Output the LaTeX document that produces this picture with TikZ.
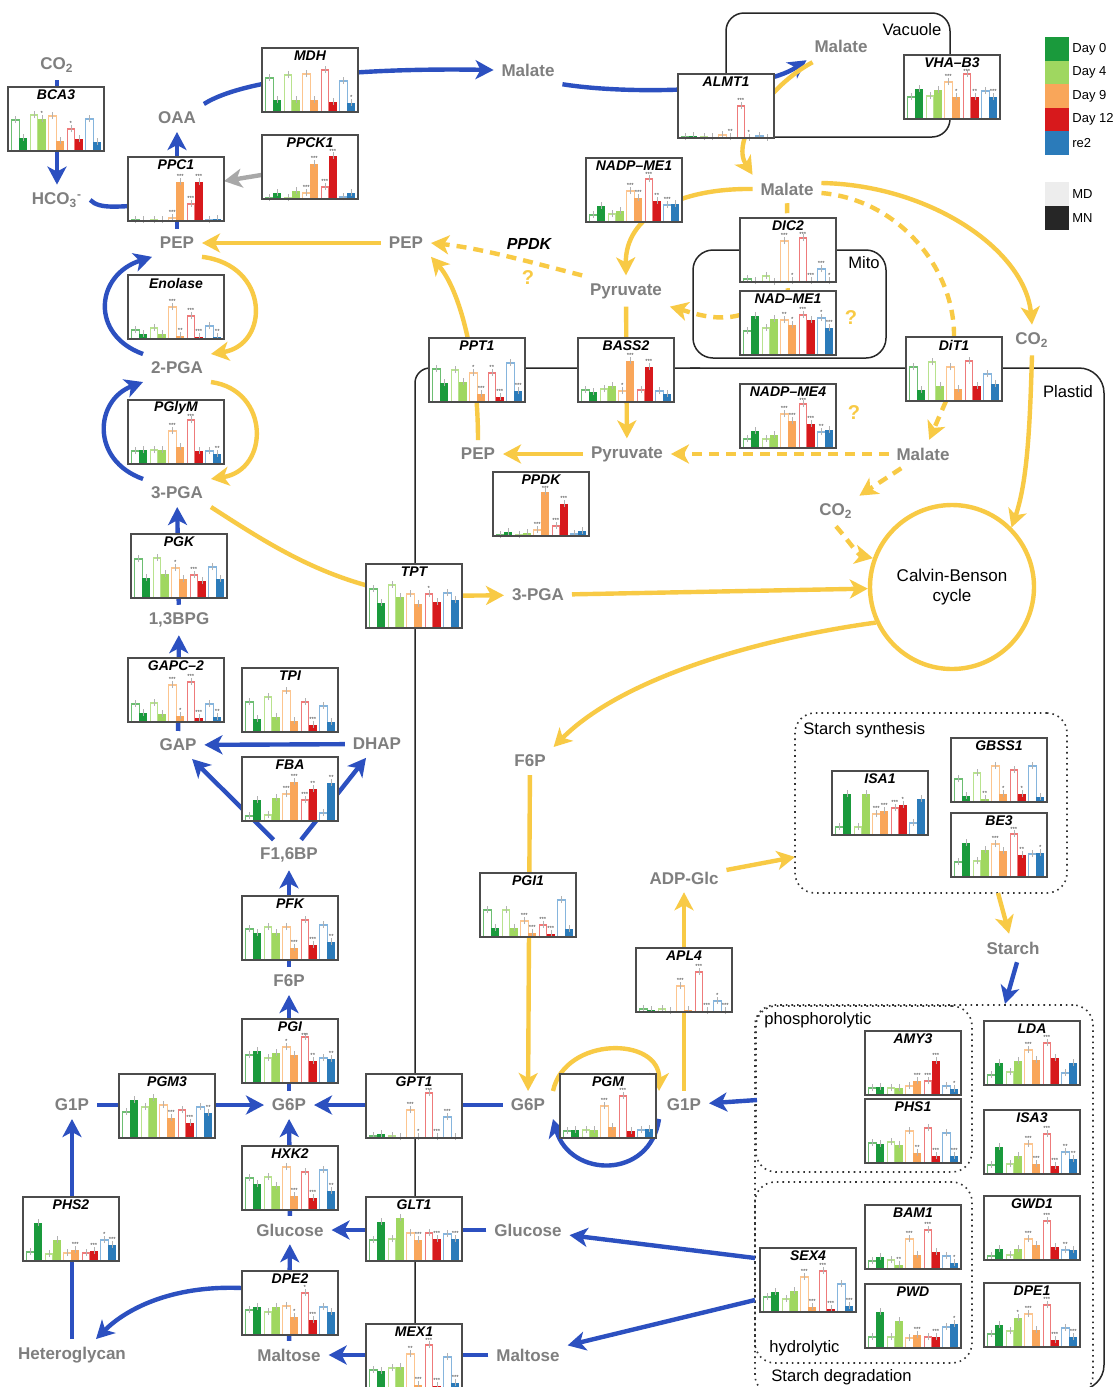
\documentclass[tikz,border=0pt]{standalone}
\usepackage{fontspec}
\setmainfont{Liberation Sans}
\usetikzlibrary{arrows.meta,calc}
\pgfdeclarelayer{bg}
\pgfsetlayers{bg,main}
\definecolor{cblue}{HTML}{2C50C0}
\definecolor{cyel}{HTML}{F8CA45}
\definecolor{cgreyA}{HTML}{A8A8A8}
\definecolor{metgrey}{HTML}{7F7F7F}
\definecolor{cF0}{HTML}{1A9A3C}
\definecolor{cF1}{HTML}{9FD760}
\definecolor{cF2}{HTML}{F9A65A}
\definecolor{cF3}{HTML}{D7191C}
\definecolor{cF4}{HTML}{2B7BBA}
\definecolor{cO0}{HTML}{6DBE72}
\definecolor{cO1}{HTML}{B8E28E}
\definecolor{cO2}{HTML}{FCC58F}
\definecolor{cO3}{HTML}{EE7B7B}
\definecolor{cO4}{HTML}{86B5DD}
\tikzset{
 met/.style={font=\fontsize{8.5}{10}\selectfont\bfseries, text=metgrey, inner sep=1.5pt, outer sep=2.5pt},
 comp/.style={font=\fontsize{8.3}{10}\selectfont, text=black, inner sep=1pt},
 glabel/.style={font=\fontsize{7}{8}\selectfont\bfseries\itshape, inner sep=0pt},
 gframe/.style={fill=white, minimum width=48pt, minimum height=32pt, inner sep=0pt, outer sep=0pt},
 boxline/.style={draw=black!70, line width=0.6pt},
 errb/.style={draw=black!30, line width=0.3pt},
 sigst/.style={font=\fontsize{3}{3}\selectfont, text=black!75, inner sep=0pt, anchor=south},
 arr/.style={-{Stealth[length=9pt,width=9.5pt,inset=2.5pt]}},
 bl/.style={draw=cblue, line width=2.2pt, arr},
 blN/.style={draw=cblue, line width=2.2pt},
 gr/.style={draw=cgreyA, line width=2.2pt, arr},
 yl/.style={draw=cyel, line width=2.2pt, arr},
 ylD/.style={yl, dash pattern=on 5pt off 3.5pt},
 ylDN/.style={draw=cyel, line width=2.2pt, dash pattern=on 5pt off 3.5pt},
 env/.style={draw=black!85, line width=0.75pt},
 solbox/.style={draw=black!85, line width=0.75pt, rounded corners=9pt, inner sep=0pt},
 dotbox/.style={draw=black!80, line width=0.8pt, dotted, rounded corners=10pt, inner sep=0pt},
 qm/.style={font=\fontsize{10}{12}\selectfont\bfseries, text=cyel, inner sep=0pt},
 legsq/.style={minimum size=12pt, inner sep=0pt, outer sep=0pt},
 legtxt/.style={font=\fontsize{6.5}{8}\selectfont, anchor=west, inner sep=0pt},
}
% #1 name, #2 top-left (px), #3 label, #4 ten bar heights, #5 ten significance codes
\newcommand\genebox[5]{%
  \node[gframe] (#1) at ($(#2)+(48,32)$) {};
  \begin{scope}[shift={(#2)}]
    \foreach \h [count=\i from 0] in {#4} {
      \pgfmathtruncatemacro\p{int(\i/2)}
      \pgfmathtruncatemacro\f{mod(\i,2)}
      \pgfmathtruncatemacro\s{{#5}[\i]}
      \pgfmathsetmacro\xa{3.3+18.5*\p+8*\f}
      \pgfmathsetmacro\sy{max(64-\h-3,19)}
      \ifnum\f=0
        \colorlet{curc}{cO\p}
        \draw[draw=curc, line width=0.55pt, fill=white] (\xa+0.4,64) rectangle (\xa+7.8,64-\h);
      \else
        \colorlet{curc}{cF\p}
        \fill[curc] (\xa,64) rectangle (\xa+8,64-\h);
      \fi
      \draw[errb] (\xa+4,64-\h+3) -- (\xa+4,64-\h-4);
      \ifcase\s
      \or \node[sigst] at (\xa+4,\sy) {*};
      \or \node[sigst] at (\xa+4,\sy) {**};
      \or \node[sigst] at (\xa+4,\sy) {***};
      \fi
    }
    \draw[boxline] (0,0) rectangle (96,64);
    \node[glabel] at (48,8) {#3};
  \end{scope}}
\begin{document}
\begin{tikzpicture}[x=0.5pt,y=-0.5pt]
\begin{pgfonlayer}{bg}
\fill[white] (0,0) rectangle (1118,1387);
\end{pgfonlayer}
\useasboundingbox (0,0) rectangle (1118,1387);

% compartments
\begin{pgfonlayer}{bg}
\node[solbox, minimum width=112pt, minimum height=62pt] (vac) at (838,75) {};
\node[solbox, rounded corners=10pt, minimum width=96.5pt, minimum height=54pt] (mito) at (789.5,304) {};
\node[dotbox, minimum width=136pt, minimum height=90pt] (ssyn) at (931,803) {};
\node[dotbox, minimum width=169pt, minimum height=195pt] (sdeg) at (924,1200) {};
\node[dotbox, minimum width=108pt, minimum height=83pt] (phos) at (864,1089) {};
\node[dotbox, minimum width=108.5pt, minimum height=90.5pt] (hydr) at (863.5,1272.5) {};
\draw[env, rounded corners=7.5pt] (415,1400) -- (415,368) -- (700,368);
\draw[env, rounded corners=12.5pt] (690,368) -- (1104,368) -- (1104,1390) -- (1000,1390);
\end{pgfonlayer}

% gene boxes
\genebox{bca3}{8,87}{BCA3}{31,13,36,32,35,10,22,12,32,9}{0,0,0,1,0,0,1,0,0,0}
\genebox{mdh}{262,48}{MDH}{34,12,37,12,38,12,42,10,31,9}{0,0,0,0,0,0,0,0,0,1}
\genebox{ppck1}{262,135}{PPCK1}{1,6,1,8,6,35,12,43,2,6}{0,0,0,0,3,3,3,3,0,0}
\genebox{ppc1}{128,157}{PPC1}{1,1,1,1,3,39,17,39,1,2}{0,0,0,0,3,3,3,3,0,0}
\genebox{almt1}{678,74}{ALMT1}{1,2,1,1,3,1,32,0.4,2,0.4}{0,0,0,0,0,2,3,1,0,0}
\genebox{vhab3}{904,55}{VHA–B3}{22,30,23,29,37,22,45,22,28,22}{0,0,0,0,3,1,3,2,0,3}
\genebox{nadpme1}{586,158}{NADP–ME1}{7,16,8,11,31,24,43,21,17,18}{0,0,0,0,3,3,3,2,3,0}
\genebox{dic2}{740,218}{DIC2}{3,1,6,0.5,41,1,44,1,13,1}{0,0,0,0,3,1,3,3,3,1}
\genebox{nadme1}{740,291}{NAD–ME1}{24,39,27,36,35,30,40,35,37,27}{0,0,0,0,2,1,3,0,1,3}
\genebox{ppt1}{429,338}{PPT1}{33,19,32,20,29,8,29,5,39,11}{0,0,0,0,1,3,2,3,0,3}
\genebox{bass2}{578,338}{BASS2}{12,10,13,16,11,41,12,35,11,8}{0,0,0,0,1,3,0,3,0,0}
\genebox{dit1}{906,337}{DiT1}{34,11,39,15,34,12,40,15,27,17}{0,0,0,0,0,0,0,0,0,0}
\genebox{nadpme4}{740,384}{NADP–ME4}{9,17,9,13,34,27,44,24,16,18}{0,0,0,0,3,3,3,3,2,0}
\genebox{ppdk}{493,472}{PPDK}{1,4,1,3,6,44,10,32,2,5}{0,0,0,0,3,3,3,3,0,0}
\genebox{enolase}{128,275}{Enolase}{9,5,11,5,32,3,23,2,13,2}{0,0,0,0,3,2,3,3,0,2}
\genebox{pglym}{128,400}{PGlyM}{13,14,14,14,33,17,44,13,13,10}{0,0,0,0,3,0,3,0,0,2}
\genebox{pgk}{131,534}{PGK}{39,20,40,24,30,19,23,17,31,19}{0,0,0,0,1,0,3,0,0,0}
\genebox{tpt}{366,564}{TPT}{39,25,43,31,34,24,34,26,35,28}{0,0,0,0,0,0,1,0,0,0}
\genebox{gapc2}{128,658}{GAPC–2}{18,9,19,8,37,6,40,4,18,5}{0,0,0,0,3,1,3,3,0,2}
\genebox{tpi}{242,668}{TPI}{30,13,35,15,41,11,30,7,26,10}{0,0,0,0,0,0,0,3,0,0}
\genebox{fba}{242,757}{FBA}{5,21,6,23,27,39,21,32,8,38}{0,0,0,0,3,3,3,2,0,2}
\genebox{pfk}{242,896}{PFK}{31,27,33,27,33,12,40,15,35,18}{0,0,0,0,0,3,0,3,0,2}
\genebox{pgi}{242,1019}{PGI}{28,32,25,30,36,28,46,22,25,24}{0,0,0,0,1,0,3,2,0,2}
\genebox{pgi1}{480,873}{PGI1}{27,9,27,9,16,4,12,3,37,8}{0,0,0,0,3,3,3,3,0,0}
\genebox{apl4}{636,948}{APL4}{3,2,3,1,26,2,40,1,11,1}{0,0,0,0,3,0,3,3,1,3}
\genebox{pgm}{560,1074}{PGM}{7,8,8,8,32,11,42,7,8,9}{0,0,0,0,3,0,3,0,0,0}
\genebox{isa1}{832,771}{ISA1}{8,41,8,41,21,24,27,30,12,36}{0,0,0,0,3,3,3,1,0,0}
\genebox{gbss1}{951,738}{GBSS1}{23,6,29,3,36,8,32,8,36,5}{0,0,0,2,0,1,0,1,0,0}
\genebox{be3}{951,813}{BE3}{15,34,16,27,33,26,43,22,23,24}{0,0,0,0,3,0,3,2,0,1}
\genebox{amy3}{865,1031}{AMY3}{7,8,7,7,9,14,14,34,9,6}{0,0,0,0,0,3,3,3,0,1}
\genebox{phs1}{865,1099}{PHS1}{20,19,21,18,32,10,35,7,30,7}{0,0,0,0,0,2,0,3,0,3}
\genebox{lda}{984,1021}{LDA}{10,22,13,24,35,25,42,27,12,22}{0,0,0,0,3,0,3,0,0,0}
\genebox{isa3}{984,1110}{ISA3}{9,27,10,18,30,10,40,8,22,15}{0,0,0,0,3,3,3,3,2,2}
\genebox{gwd1}{984,1196}{GWD1}{4,11,5,11,21,15,39,13,10,10}{0,0,0,0,3,0,3,0,2,0}
\genebox{bam1}{865,1205}{BAM1}{8,12,9,4,30,14,39,17,13,6}{0,0,0,2,3,0,3,0,0,1}
\genebox{sex4}{760,1248}{SEX4}{15,20,13,21,35,5,41,3,28,6}{0,0,0,0,3,3,3,3,0,3}
\genebox{pwd}{865,1284}{PWD}{11,36,11,27,10,13,11,11,21,24}{0,0,0,0,0,3,0,3,0,1}
\genebox{dpe1}{984,1283}{DPE1}{13,22,16,29,33,17,42,7,19,10}{0,0,0,1,3,0,3,3,0,3}
\genebox{pgm3}{119,1074}{PGM3}{26,38,31,40,33,20,28,15,31,25}{0,0,0,0,0,3,0,3,0,2}
\genebox{gpt1}{366,1074}{GPT1}{2,4,2,1,28,1,45,1,21,1}{0,0,0,0,3,1,3,3,3,0}
\genebox{hxk2}{242,1146}{HXK2}{32,26,33,24,43,14,38,12,40,19}{0,0,0,0,0,3,0,3,0,2}
\genebox{phs2}{23,1197}{PHS2}{9,38,7,21,8,11,8,10,21,16}{0,0,0,0,0,3,0,3,1,3}
\genebox{glt1}{366,1197}{GLT1}{21,39,22,43,28,21,28,22,27,22}{0,0,0,0,0,3,0,3,0,3}
\genebox{dpe2}{242,1271}{DPE2}{25,28,23,28,29,18,42,15,28,23}{0,0,0,0,0,1,1,3,0,0}
\genebox{mex1}{366,1324}{MEX1}{18,17,20,21,34,3,43,2,31,5}{0,0,0,0,2,3,3,3,0,3}

% metabolites
\node[met] (co2a) at (57,65) {CO\textsubscript{2}};
\node[met] (hco3) at (57,200) {HCO\textsubscript{3}\textsuperscript{-}};
\node[met] (oaa) at (177,118) {OAA};
\node[met] (pepA) at (177,243) {PEP};
\node[met] (pga2) at (177,368) {2-PGA};
\node[met] (pga3) at (177,493) {3-PGA};
\node[met] (bpg) at (179,620) {1,3BPG};
\node[met] (gap) at (178,745) {GAP};
\node[met] (dhap) at (377,744) {DHAP};
\node[met] (fbp) at (289,855) {F1,6BP};
\node[met] (f6pA) at (289,981) {F6P};
\node[met] (g6pA) at (289,1105) {G6P};
\node[met] (g1pA) at (72,1105) {G1P};
\node[met] (glcA) at (290,1230) {Glucose};
\node[met] (malA) at (289,1355) {Maltose};
\node[met] (hetero) at (72,1355) {Heteroglycan};
\node[met] (malTop) at (528,70) {Malate};
\node[met] (malVac) at (841,46) {Malate};
\node[met] (malCyt) at (787,189) {Malate};
\node[met] (pepB) at (406,243) {PEP};
\node[met] (pyrC) at (626,291) {Pyruvate};
\node[met] (co2b) at (1032,340) {CO\textsubscript{2}};
\node[met] (pepP) at (478,454) {PEP};
\node[met] (pyrP) at (627,454) {Pyruvate};
\node[met] (malP) at (923,454) {Malate};
\node[met] (co2P) at (836,511) {CO\textsubscript{2}};
\node[met] (pga3P) at (538,595) {3-PGA};
\node[met] (f6pP) at (530,761) {F6P};
\node[met] (adpg) at (684,878) {ADP-Glc};
\node[met] (starch) at (1013,948) {Starch};
\node[met] (g6pP) at (528,1105) {G6P};
\node[met] (g1pP) at (684,1105) {G1P};
\node[met] (glcP) at (528,1230) {Glucose};
\node[met] (malP2) at (528,1355) {Maltose};
\node[circle, draw=cyel, line width=2.2pt, minimum size=82pt, inner sep=0pt, align=center, font=\fontsize{8.5}{10}\selectfont] (cbc) at (952,587) {Calvin-Benson\\cycle};

% other labels
\node[font=\fontsize{8}{10}\selectfont\bfseries\itshape, inner sep=0pt] (ppdkL) at (529,244) {PPDK};
\node[qm] (q1) at (528,278) {?};
\node[qm] (q2) at (851,318) {?};
\node[qm] (q3) at (854,413) {?};
\node[comp] (vacL) at (912,30) {Vacuole};
\node[comp] (mitoL) at (864,263) {Mito};
\node[comp] (plasL) at (1068,392) {Plastid};
\node[comp, anchor=west] (ssynL) at (801,730) {Starch synthesis};
\node[comp, anchor=west] (phosL) at (762,1020) {phosphorolytic};
\node[comp, anchor=west] (hydrL) at (767,1348) {hydrolytic};
\node[comp, anchor=west] (sdegL) at (769,1377) {Starch degradation};

% legend
\node[legsq, fill=cF0] (lg0) at (1057,49) {};
\node[legsq, fill=cF1] (lg1) at (1057,72.5) {};
\node[legsq, fill=cF2] (lg2) at (1057,96) {};
\node[legsq, fill=cF3] (lg3) at (1057,119.5) {};
\node[legsq, fill=cF4] (lg4) at (1057,143) {};
\node[legsq, fill=black!7] (lgmd) at (1057,194) {};
\node[legsq, fill=black!85] (lgmn) at (1057,218) {};
\node[legtxt] (lt0) at (1072,49) {Day 0};
\node[legtxt] (lt1) at (1072,72.5) {Day 4};
\node[legtxt] (lt2) at (1072,96) {Day 9};
\node[legtxt] (lt3) at (1072,119.5) {Day 12};
\node[legtxt] (lt4) at (1072,143) {re2};
\node[legtxt] (ltmd) at (1072,194) {MD};
\node[legtxt] (ltmn) at (1072,218) {MN};

% free ends
\coordinate (j1) at (150,205);
\coordinate (sd1) at (755,1258);
\coordinate (sd2) at (755,1300);
\coordinate (sd3) at (757,1100);
\coordinate (sdtop) at (1005,1004);
\coordinate (ssIn) at (795,857);
\coordinate (ssOut) at (998,893);

\begin{pgfonlayer}{bg}
% blue
\draw[bl] (co2a) -- (hco3);
\draw[blN] (hco3.east) .. controls (100,210) and (120,206) .. (j1);
\draw[bl] (pepA) -- (oaa);
\draw[bl] (oaa.north east) .. controls (250,75) and (380,68) .. (malTop.west);
\draw[gr] (ppck1) -- (ppc1);
\draw[bl] (malTop.south east) .. controls (630,95) and (760,92) .. (malVac.south west);
\draw[bl] (pga2.north west) .. controls (90,335) and (95,275) .. (pepA.south west);
\draw[bl] (pga3.north west) .. controls (90,460) and (95,400) .. (pga2.south west);
\draw[bl] (bpg) -- (pga3);
\draw[bl] (gap) -- (bpg);
\draw[bl] (dhap) -- (gap);
\draw[bl] (fbp) -- (gap);
\draw[bl] (fbp) -- (dhap);
\draw[bl] (f6pA) -- (fbp);
\draw[bl] (g6pA) -- (f6pA);
\draw[bl] (g1pA) -- (g6pA);
\draw[bl] (g6pP) -- (g6pA);
\draw[bl] (glcA) -- (g6pA);
\draw[bl] (glcP) -- (glcA);
\draw[bl] (malA) -- (glcA);
\draw[bl] ([yshift=7.5pt]dpe2.west) .. controls (170,1285) and (125,1310) .. ([xshift=12pt]hetero.north);
\draw[bl] (hetero) -- (g1pA);
\draw[bl] (malP2) -- (malA);
\draw[bl] (sd1) -- (glcP);
\draw[bl] (sd2) -- (malP2);
\draw[bl] (sd3) -- (g1pP);
\draw[bl] (g1pP.south west) .. controls (650,1180) and (570,1178) .. (g6pP.south east);
\draw[bl] ([xshift=2pt]starch.south) -- (sdtop);
% yellow
\draw[yl] (pepA.south east) .. controls (270,265) and (270,345) .. (pga2.north east);
\draw[yl] (pga2.south east) .. controls (270,390) and (270,470) .. (pga3.north east);
\draw[yl] (pepB) -- (pepA);
\draw[ylD] (pyrC.north west) .. controls (530,262) and (480,248) .. (pepB.east);
\draw[yl] (pepP.north) .. controls (478,360) and (460,290) .. (pepB.south east);
\draw[yl] ([xshift=3pt,yshift=-1pt]malVac.south west) .. controls (770,85) and (730,140) .. (malCyt.north west);
\draw[yl] (malCyt.west) .. controls (680,188) and (625,215) .. (pyrC.north);
\draw[ylDN] (malCyt) -- (nadme1);
\draw[ylD] ([yshift=4pt]nadme1.west) .. controls (715,322) and (690,312) .. (pyrC.south east);
\draw[ylDN] ([yshift=-2pt]malCyt.east) .. controls (900,200) and (955,270) .. (dit1.north);
\draw[ylD] ([xshift=-4pt]dit1.south) -- (malP);
\draw[yl] ([yshift=3pt]malCyt.east) .. controls (930,185) and (1025,250) .. (co2b.north);
\draw[yl] (co2b.south) .. controls (1030,420) and (1028,480) .. (cbc.north east);
\draw[yl] (pyrC) -- (pyrP);
\draw[yl] (pyrP) -- (pepP);
\draw[ylD] (malP) -- (pyrP);
\draw[ylD] (malP) -- (co2P);
\draw[ylD] (co2P.south) .. controls (848,540) and (858,555) .. (cbc.160);
\draw[yl] (pga3.south east) .. controls (270,545) and (330,585) .. (420,596) -- (pga3P);
\draw[yl] (pga3P) -- (cbc);
\draw[yl] (cbc.205) .. controls (750,640) and (620,680) .. (f6pP.north east);
\draw[yl] (f6pP) -- (g6pP);
\draw[yl] (g6pP.north east) .. controls (565,1036) and (660,1036) .. (g1pP.north west);
\draw[yl] (g1pP) -- (adpg);
\draw[yl] (adpg) -- (ssIn);
\draw[yl] (ssOut) -- (starch);
\end{pgfonlayer}
\end{tikzpicture}
\end{document}
